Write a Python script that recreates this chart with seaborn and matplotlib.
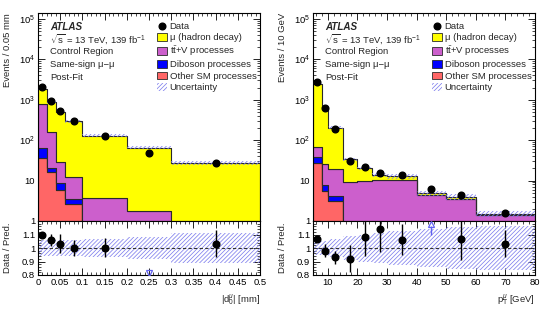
import numpy as np
import pandas as pd
import matplotlib
matplotlib.use("Agg")
import matplotlib.pyplot as plt
import seaborn as sns
from matplotlib.patches import Patch
from matplotlib.lines import Line2D
from matplotlib.ticker import MultipleLocator, FixedLocator, FuncFormatter, LogLocator, NullFormatter

# ---------------- data ----------------
d0_edges = [0, 0.02, 0.04, 0.06, 0.1, 0.2, 0.3, 0.5]
d0_other = [36, 16, 5.7, 2.6, 0.5, 0.3, 0.2]
d0_diboson = [29, 5, 3.1, 0.9, 0.2, 0.1, 0.05]
d0_ttv = [735, 136, 20.7, 8.5, 3.0, 1.35, 0.6]
d0_hadron = [1050, 733, 480, 278, 126, 63, 26]
d0_data = [2035, 943, 525, 290, 130, 49, 27.7]
d0_data_err = [40, 38, 36, 17, 9, 7, 2.7]
d0_unc = [0.06, 0.06, 0.06, 0.06, 0.065, 0.08, 0.11]

pt_edges = [5, 8, 10, 15, 20, 25, 30, 40, 50, 60, 80]
pt_other = [27, 5.6, 3.1, 0.5, 0.4, 0.3, 0.3, 0.2, 0.1, 0.05]
pt_diboson = [12, 2.1, 1.1, 0.3, 0.2, 0.2, 0.2, 0.1, 0.1, 0.05]
pt_ttv = [27, 17.3, 14.8, 8.5, 9.1, 9.8, 9.8, 4.1, 3.3, 1.3]
pt_hadron = [2434, 625, 186, 24.7, 10.3, 3.2, 2.5, 0.4, 0.5, 0.1]
pt_data = [2675, 637, 190.6, 31.3, 21.6, 15.4, 13.6, 6.05, 4.28, 1.55]
pt_data_err = [50, 32, 10, 3.4, 2.8, 2.3, 1.5, 1.0, 0.64, 0.15]
pt_unc = [0.05, 0.055, 0.067, 0.09, 0.1, 0.11, 0.125, 0.14, 0.155, 0.165]

proc_names = ["Other SM processes", "Diboson processes", "tt+V processes", "μ (hadron decay)"]
proc_colors = {"Other SM processes": "#FF6666",
               "Diboson processes": "#0000FF",
               "tt+V processes": "#CC5FCC",
               "μ (hadron decay)": "#FFFF00"}
hatch_col = "#8080EE"

# ---------------- style ----------------
sns.set_style("ticks")
plt.rcParams["font.family"] = ["Liberation Sans", "DejaVu Sans"]
plt.rcParams["mathtext.fontset"] = "custom"
plt.rcParams["mathtext.rm"] = "Liberation Sans"
plt.rcParams["mathtext.it"] = "Liberation Sans:italic"
plt.rcParams["mathtext.bf"] = "Liberation Sans:bold"
plt.rcParams["hatch.linewidth"] = 0.55
plt.rcParams["axes.linewidth"] = 0.8
plt.rcParams["axes.edgecolor"] = "black"

FS = 6.8
HATCH = "////////"

fig = plt.figure(figsize=(5.56, 3.14), dpi=100)
W, H = 556.0, 314.0


def box(x0, y0, x1, y1):
    return [x0 / W, 1 - y1 / H, (x1 - x0) / W, (y1 - y0) / H]


def log_fmt(v, pos):
    if v <= 0:
        return ""
    n = int(round(np.log10(v)))
    if abs(v - 10 ** n) > 1e-6 * v:
        return ""
    if n == 0:
        return "1"
    if n == 1:
        return "10"
    return r"$10^{%d}$" % n


def ratio_fmt(v, pos):
    if abs(v - 1.2) < 1e-6:
        return ""
    if abs(v - 1.0) < 1e-6:
        return "1"
    return "%g" % v


def style_ticks(ax):
    ax.tick_params(which="both", direction="in", top=True, right=True,
                   labelsize=FS, pad=2, colors="black")
    ax.tick_params(which="major", length=5, width=0.6)
    ax.tick_params(which="minor", length=2.5, width=0.5)


def panel(x0, x1, edges, comps, data, data_err, unc, xmajor, xminor,
          xlabel, ylabel, xlim):
    bin_list = [float(e) for e in edges]
    edges = np.asarray(edges, float)
    centers = 0.5 * (edges[:-1] + edges[1:])
    axm = fig.add_axes(box(x0, 13, x1, 221))
    axr = fig.add_axes(box(x0, 221, x1, 275), sharex=axm)

    rows = []
    for name, vals in zip(proc_names, comps):
        for c, v in zip(centers, vals):
            rows.append({"x": float(c), "w": float(v), "proc": name})
    df = pd.DataFrame(rows)
    axm.set_yscale("log")
    # seaborn stacks the last hue level at the bottom
    sns.histplot(data=df, x="x", weights="w", hue="proc", hue_order=proc_names[::-1],
                 palette=proc_colors, bins=bin_list, multiple="stack", element="step",
                 fill=True, alpha=1, edgecolor="#2a2a2a", linewidth=0.8,
                 legend=False, ax=axm)

    total = np.sum(np.array(comps, float), axis=0)
    unc = np.asarray(unc, float)
    lo = total * (1 - unc)
    hi = total * (1 + unc)
    axm.fill_between(edges, np.r_[lo, lo[-1]], np.r_[hi, hi[-1]], step="post",
                     facecolor="none", edgecolor=hatch_col, hatch=HATCH,
                     linewidth=0, zorder=3)
    data = np.asarray(data, float)
    derr = np.asarray(data_err, float)
    axm.errorbar(centers, data, yerr=derr, fmt="o", color="black", ms=4.8,
                 elinewidth=1, capsize=0, zorder=5)

    axm.set_xlim(*xlim)
    axm.set_ylim(1, 1.4e5)
    axm.yaxis.set_major_locator(LogLocator(base=10, numticks=10))
    axm.yaxis.set_minor_locator(LogLocator(base=10, subs=np.arange(2, 10), numticks=20))
    axm.yaxis.set_major_formatter(FuncFormatter(log_fmt))
    axm.yaxis.set_minor_formatter(NullFormatter())
    style_ticks(axm)
    axm.tick_params(labelbottom=False)
    axm.set_xlabel("")
    axm.set_ylabel(ylabel, fontsize=FS, loc="top")
    axm.yaxis.set_label_coords(-0.115, 1.0)

    # texts
    tx = 0.054
    ty = 0.934
    dy = 0.0605
    axm.text(tx, ty, "ATLAS", transform=axm.transAxes, fontsize=FS + 0.3,
             fontweight="bold", fontstyle="italic", va="center", ha="left")
    lines = [r"$\sqrt{\mathrm{s}}$ = 13 TeV, 139 fb$^{\mathrm{-1}}$", "Control Region",
             "Same-sign μ−μ", "Post-Fit"]
    for i, t in enumerate(lines):
        axm.text(tx, ty - (i + 1) * dy, t, transform=axm.transAxes, fontsize=FS,
                 va="center", ha="left")

    handles = [Line2D([], [], marker="o", color="black", ls="none", ms=4.8),
               Patch(facecolor=proc_colors["μ (hadron decay)"], edgecolor="#2a2a2a", lw=0.6),
               Patch(facecolor=proc_colors["tt+V processes"], edgecolor="#2a2a2a", lw=0.6),
               Patch(facecolor=proc_colors["Diboson processes"], edgecolor="#2a2a2a", lw=0.6),
               Patch(facecolor=proc_colors["Other SM processes"], edgecolor="#2a2a2a", lw=0.6),
               Patch(facecolor="white", edgecolor=hatch_col, hatch=HATCH, lw=0)]
    labels = ["Data", "μ (hadron decay)", r"$\mathrm{t\bar{t}}$+V processes",
              "Diboson processes", "Other SM processes", "Uncertainty"]
    axm.legend(handles, labels, loc="upper left", bbox_to_anchor=(0.535, 0.957),
               frameon=False, fontsize=FS, borderpad=0, borderaxespad=0,
               handlelength=1.1, handleheight=0.9, handletextpad=0.25,
               labelspacing=0.22)

    # ratio
    ratio = data / total
    rerr = derr / total
    axr.fill_between(edges, np.r_[1 - unc, 1 - unc[-1]], np.r_[1 + unc, 1 + unc[-1]],
                     step="post", facecolor="none", edgecolor=hatch_col,
                     hatch=HATCH, linewidth=0, zorder=1)
    axr.axhline(1, color="#333333", lw=0.8, dashes=(3, 2), zorder=2)
    inside = (ratio >= 0.8) & (ratio <= 1.2)
    axr.errorbar(centers[inside], ratio[inside], yerr=rerr[inside], fmt="o",
                 color="black", ms=4.8, elinewidth=1, capsize=0, zorder=5)
    low = ratio < 0.8
    high = ratio > 1.2
    if low.any():
        axr.plot(centers[low], np.full(low.sum(), 0.815), marker="v", ls="none",
                 mfc="none", mec="#6060F0", ms=5, mew=0.9, zorder=5)
    if high.any():
        axr.vlines(centers[high], 1.10, 1.16, color="#6060F0", lw=1, zorder=5)
        axr.plot(centers[high], np.full(high.sum(), 1.175), marker="^", ls="none",
                 mfc="none", mec="#6060F0", ms=5, mew=0.9, zorder=5)

    axr.set_ylim(0.8, 1.2)
    axr.set_xlim(*xlim)
    axr.yaxis.set_major_locator(FixedLocator([0.8, 0.9, 1.0, 1.1, 1.2]))
    axr.yaxis.set_minor_locator(MultipleLocator(0.02))
    axr.yaxis.set_major_formatter(FuncFormatter(ratio_fmt))
    axr.xaxis.set_major_locator(MultipleLocator(xmajor))
    axr.xaxis.set_minor_locator(MultipleLocator(xminor))
    axr.xaxis.set_major_formatter(FuncFormatter(lambda v, p: "%g" % round(v, 4)))
    style_ticks(axr)
    axr.set_ylabel("Data / Pred.", fontsize=FS)
    axr.yaxis.set_label_coords(-0.115, 0.5)
    axr.set_xlabel(xlabel, fontsize=FS, loc="right")
    axr.xaxis.set_label_coords(1.0, -0.33)
    return axm, axr


panel(38, 260, d0_edges, [d0_other, d0_diboson, d0_ttv, d0_hadron], d0_data,
      d0_data_err, d0_unc, 0.05, 0.01, r"|d$_{0}^{\mu}$| [mm]", "Events / 0.05 mm",
      (0, 0.5))
panel(313, 535, pt_edges, [pt_other, pt_diboson, pt_ttv, pt_hadron], pt_data,
      pt_data_err, pt_unc, 10, 2, r"p$_{\mathrm{T}}^{\mu}$ [GeV]", "Events / 10 GeV",
      (5, 80))

fig.savefig("out.png", dpi=100)
